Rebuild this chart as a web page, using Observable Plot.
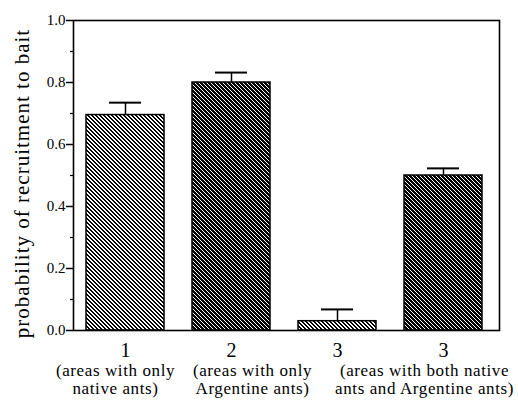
<!DOCTYPE html>
<html>
<head>
<meta charset="utf-8">
<script src="https://cdn.jsdelivr.net/npm/d3@7"></script>
<script src="https://cdn.jsdelivr.net/npm/@observablehq/plot@0.6"></script>
<style>
  html, body { margin: 0; padding: 0; background: white; }
  #chart { width: 518px; height: 401px; }
  #chart svg, #chart svg text, #chart svg tspan { font-family: "Liberation Serif", "Times New Roman", serif !important; }
</style>
</head>
<body>
<div id="chart"></div>
<script>
const groupIds = ["g1", "g2", "g3", "g4"];
const groupNumbers = ["1", "2", "3", "3"];
const groupDescriptions = [
  "(areas with only\nnative ants)",
  "(areas with only\nArgentine ants)",
  "",
  "(areas with both native\nants and Argentine ants)"
];
const means = [0.695, 0.80, 0.03, 0.50];
const upperErrors = [0.735, 0.832, 0.068, 0.523];
const yMajorTicks = [0, 0.2, 0.4, 0.6, 0.8, 1.0];
const yMinorTicks = [0.1, 0.3, 0.5, 0.7, 0.9];
const yLabel = "probability of recruitment to bait";

const rows = groupIds.map((id, i) => ({id, i, mean: means[i], upper: upperErrors[i]}));
const lightRows = rows.filter(d => d.i % 2 === 0);
const darkRows = rows.filter(d => d.i % 2 === 1);
const descOffsets = [-10, 21, 0, -19];

const font = "'Liberation Serif', 'Times New Roman', serif";

const marks = [
  Plot.barY(lightRows, {x: "id", y: "mean", fill: "url(#hatchLight)", stroke: "black", strokeWidth: 1.5}),
  Plot.barY(darkRows, {x: "id", y: "mean", fill: "url(#hatchDark)", stroke: "black", strokeWidth: 1.5}),
  Plot.ruleX(rows, {x: "id", y1: "mean", y2: "upper", stroke: "black", strokeWidth: 1.5}),
  Plot.tickY(rows, {x: "id", y: "upper", stroke: "black", strokeWidth: 2, insetLeft: 23, insetRight: 23}),
  Plot.frame({stroke: "black", strokeWidth: 1.6}),
  Plot.axisY({ticks: yMajorTicks, tickFormat: d3.format(".1f"), tickSize: 7, tickPadding: 1, fontSize: 15, strokeWidth: 1.5, label: null, fontFamily: font}),
  Plot.axisY({ticks: yMinorTicks, tickFormat: () => "", tickSize: 3, strokeWidth: 1.2, label: null}),
  Plot.axisX({tickFormat: (d) => groupNumbers[groupIds.indexOf(d)], tickSize: 0, tickPadding: 12, fontSize: 20, label: null, fontFamily: font}),
  Plot.text([yLabel], {frameAnchor: "left", textAnchor: "middle", rotate: -90, dx: -51, dy: 8, fontSize: 21, fontFamily: font, text: d => d}),
  ...groupDescriptions.map((desc, i) => Plot.text([desc], {
    x: () => groupIds[i], y: 0, text: d => d, dy: 33, dx: descOffsets[i],
    fontSize: 17, fontFamily: font, lineAnchor: "top", lineHeight: 1.05
  }))
];

const chart = Plot.plot({
  width: 518,
  height: 401,
  marginLeft: 73,
  marginRight: 19,
  marginTop: 20,
  marginBottom: 71,
  style: {fontFamily: font, color: "black", background: "white"},
  x: {domain: groupIds, paddingInner: 0.264, paddingOuter: 0.137, align: 0.45, axis: null},
  y: {domain: [0, 1], axis: null},
  marks
});

// Hatch patterns
const svg = d3.select(chart);
const defs = svg.insert("defs", ":first-child");
function addPattern(id, bg, fg, cellsPerRow) {
  const p = defs.append("pattern").attr("id", id).attr("patternUnits", "userSpaceOnUse")
    .attr("width", 4).attr("height", 4);
  p.append("rect").attr("width", 4).attr("height", 4).attr("fill", bg);
  for (let r = 0; r < 4; r++) {
    for (let k = 0; k < cellsPerRow; k++) {
      p.append("rect").attr("x", (r + k) % 4).attr("y", r).attr("width", 1).attr("height", 1)
        .attr("fill", fg).attr("shape-rendering", "crispEdges");
    }
  }
}
addPattern("hatchLight", "white", "black", 2);
addPattern("hatchDark", "black", "white", 1);

// Wider letter spacing to mimic the original typeface's width
svg.selectAll("text").each(function() {
  if (this.textContent === yLabel) this.setAttribute("letter-spacing", "1");
});
svg.selectAll("tspan").attr("letter-spacing", "0.6");

document.getElementById("chart").appendChild(chart);
</script>
</body>
</html>
